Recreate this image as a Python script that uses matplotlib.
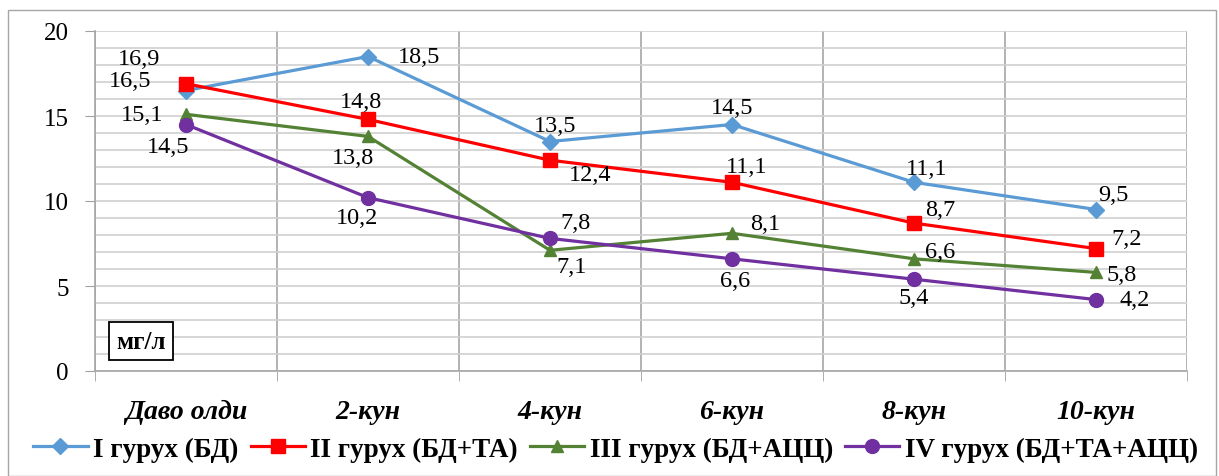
import matplotlib
matplotlib.use("Agg")
import matplotlib.pyplot as plt
from matplotlib.patches import Rectangle
from matplotlib.ticker import MultipleLocator, FixedLocator

# Days of observation and group values (mg/l)
days = ["Даво олди", "2-кун", "4-кун", "6-кун", "8-кун", "10-кун"]
group_names = ["I гурух (БД)", "II гурух (БД+ТА)", "III гурух (БД+АЦЦ)", "IV гурух (БД+ТА+АЦЦ)"]
group1 = [16.5, 18.5, 13.5, 14.5, 11.1, 9.5]
group2 = [16.9, 14.8, 12.4, 11.1, 8.7, 7.2]
group3 = [15.1, 13.8, 7.1, 8.1, 6.6, 5.8]
group4 = [14.5, 10.2, 7.8, 6.6, 5.4, 4.2]

colors = ["#5B9BD5", "#FF0000", "#548235", "#7030A0"]
markers = ["D", "s", "^", "o"]
msizes = [8, 10, 9, 10]

# label offsets (pixels) for each point of each group
offsets = [
    [(-56, 10), (51, 0), (5, 16), (0, 17), (13, 14), (17, 15)],
    [(-47, 25), (-7, 18), (40, -14), (15, 16), (26, 14), (31, 10)],
    [(-44, 0), (-15, -21), (22, -16), (33, 10), (26, 7), (26, -2)],
    [(-18, -22), (-11, -20), (25, 16), (3, -22), (0, -18), (39, 0)],
]

plt.rcParams['font.family'] = ['Liberation Serif', 'DejaVu Serif']

fig = plt.figure(figsize=(12.19, 4.77), dpi=100)
ax = fig.add_axes([95 / 1219, 1 - 372 / 477, 1092 / 1219, 340 / 477])

x = list(range(len(days)))
all_groups = [group1, group2, group3, group4]
for vals, name, c, m, ms, offs in zip(all_groups, group_names, colors, markers, msizes, offsets):
    ax.plot(x, vals, color=c, lw=2.3, marker=m, markersize=ms, label=name, zorder=3)
    for xi, v, (dx, dy) in zip(x, vals, offs):
        ax.annotate(f"{v:.1f}".replace(".", ","), (xi, v), xytext=(dx, dy),
                    textcoords="offset pixels", ha="center", va="center",
                    fontsize=17.5, color="black", zorder=4)

ax.set_xlim(-0.5, len(days) - 0.5)
ax.set_ylim(0, 20)
ax.yaxis.set_major_locator(MultipleLocator(5))
ax.yaxis.set_minor_locator(MultipleLocator(1))
ax.set_xticks(x)
ax.set_xticklabels(days, fontsize=20, fontweight="bold", fontstyle="italic")
ax.xaxis.set_minor_locator(FixedLocator([i - 0.5 for i in range(len(days) + 1)]))
ax.tick_params(axis="x", which="major", length=0, pad=20)
ax.tick_params(axis="x", which="minor", length=7, color="#a0a0a0")
ax.tick_params(axis="y", which="major", length=7, color="#a0a0a0", labelsize=18, pad=12)
ax.tick_params(axis="y", which="minor", length=0)

ax.grid(axis="y", which="both", color="#d0d0d0", lw=1.2)
ax.grid(axis="x", which="minor", color="#a6a6a6", lw=1.2)
ax.set_axisbelow(True)
for s in ["top", "right"]:
    ax.spines[s].set_visible(False)
for s in ["left", "bottom"]:
    ax.spines[s].set_color("#a6a6a6")
    ax.spines[s].set_linewidth(1.2)

# unit box
ax.text(0.042, 0.088, "мг/л", transform=ax.transAxes, ha="center", va="center",
        fontsize=18, fontweight="bold",
        bbox=dict(boxstyle="square,pad=0.3", fc="white", ec="black", lw=1.3))

fig.legend(loc="center", bbox_to_anchor=(0.505, 1 - 450 / 477), ncol=4, frameon=False,
           prop=dict(size=19.5, weight="bold"), handlelength=2.0, columnspacing=0.45,
           handletextpad=0.2, borderaxespad=0)

# chart border
fig.patches.append(Rectangle((8 / 1219, 0), 1208 / 1219, 1 - 11 / 477,
                             transform=fig.transFigure, fill=False, ec="#a6a6a6", lw=1))

fig.savefig("out.png", dpi=100)
